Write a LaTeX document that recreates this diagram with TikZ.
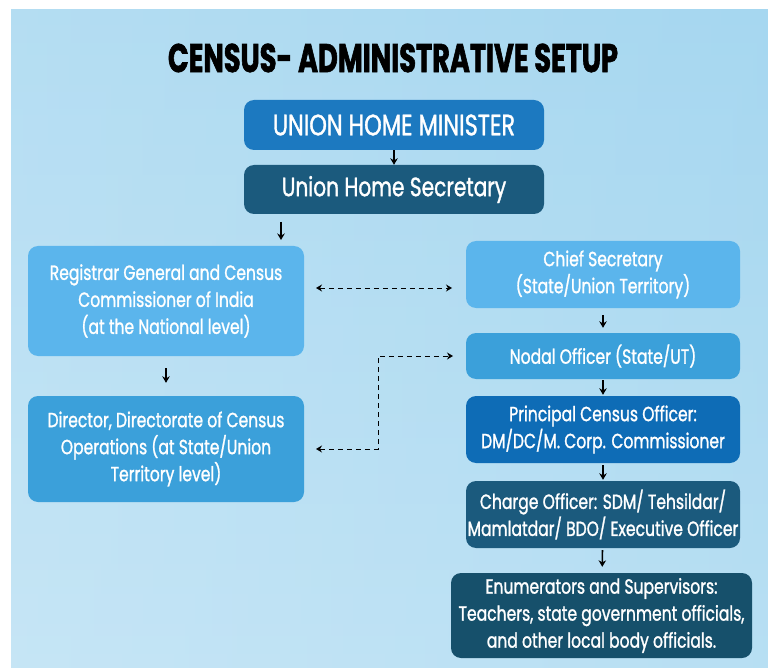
\documentclass[tikz,border=0pt]{standalone}
\usepackage{fontspec}
\setmainfont{Poppins}[FakeStretch=0.76, FakeBold=1.2]
\newfontfamily\titlefont{Poppins}[FakeStretch=0.68, FakeBold=1.5]
\usetikzlibrary{arrows.meta}
\definecolor{bgtop}{HTML}{A6D7F0}
\definecolor{bgmid}{HTML}{EEF7FC}
\definecolor{bgbot}{HTML}{BCE1F4}
\definecolor{lblue}{HTML}{5BB5EC}
\definecolor{mblue}{HTML}{3BA0DA}
\definecolor{sblue}{HTML}{1C79C0}
\definecolor{pblue}{HTML}{0E6CB6}
\definecolor{dteal}{HTML}{1B5A7D}
\definecolor{eteal}{HTML}{16506B}
\tikzset{
  box/.style={rounded corners=10pt, inner sep=0pt, text=white, align=center,
    font=\fontsize{20.5}{27}\selectfont},
  arr/.style={line width=1.6pt, -{Stealth[length=6.5pt,width=7.5pt]}},
  darr/.style={line width=0.9pt, dash pattern=on 5pt off 4pt,
    {Stealth[length=6pt,width=7pt]}-{Stealth[length=6pt,width=7pt]}},
}
\begin{document}
\begin{tikzpicture}[x=1pt,y=-1pt]
\useasboundingbox (0,0) rectangle (768,668);
\shade[top color=bgtop, middle color=bgmid, bottom color=bgbot] (11,10) rectangle (768,668);
\shade[left color=bgmid, right color=bgtop, opacity=0.2] (11,10) rectangle (768,668);
\node (title) at (393,58) {\titlefont\bfseries\fontsize{40}{44}\selectfont CENSUS- ADMINISTRATIVE SETUP};
\node[box, fill=sblue, minimum width=300pt, minimum height=50pt, font=\fontsize{29.5}{32}\selectfont] (uhm) at (394,125) {UNION HOME MINISTER};
\node[box, fill=dteal, minimum width=300pt, minimum height=49pt, font=\fontsize{26.5}{30}\selectfont] (uhs) at (394,189.5) {Union Home Secretary};
\node[box, fill=lblue, minimum width=276pt, minimum height=110pt] (reg) at (166,301) {Registrar General and Census\\Commissioner of India\\(at the National level)};
\node[box, fill=mblue, minimum width=276pt, minimum height=106pt] (dir) at (166,449) {Director, Directorate of Census\\Operations (at State/Union\\Territory level)};
\node[box, fill=lblue, minimum width=274pt, minimum height=67pt] (chief) at (603,274.5) {Chief Secretary\\(State/Union Territory)};
\node[box, fill=mblue, minimum width=274pt, minimum height=46pt] (nodal) at (603,356) {Nodal Officer (State/UT)};
\node[box, fill=pblue, minimum width=274pt, minimum height=67pt] (pco) at (603,429.5) {Principal Census Officer:\\DM/DC/M. Corp. Commissioner};
\node[box, fill=dteal, minimum width=274pt, minimum height=67pt] (cho) at (603,514.5) {Charge Officer: SDM/ Tehsildar/\\Mamlatdar/ BDO/ Executive Officer};
\node[box, fill=eteal, minimum width=301pt, minimum height=85pt] (enum) at (601.5,615.5) {Enumerators and Supervisors:\\Teachers, state government officials,\\and other local body officials.};
% solid arrows
\draw[arr] (uhm) -- (uhs);
\coordinate (u1) at (281,222);
\coordinate (u2) at (281,240);
\draw[arr] (u1) -- (u2);
\draw[arr, shorten <=12pt, shorten >=13pt] (reg) -- (dir);
\draw[arr, shorten <=7pt, shorten >=5pt] (chief) -- (nodal);
\draw[arr, shorten <=1pt, shorten >=1pt] (nodal) -- (pco);
\draw[arr, shorten <=2pt, shorten >=1pt] (pco) -- (cho);
\draw[arr, shorten <=2pt, shorten >=6pt] (cho) -- (enum);
% dashed links
\coordinate (d1) at (316,288);
\coordinate (d2) at (452,288);
\draw[darr] (d1) -- (d2);
\coordinate (d3) at (316,449);
\coordinate (d4) at (378,356);
\coordinate (d5) at (453,356);
\draw[darr] (d3) -| (d4) -- (d5);
\end{tikzpicture}
\end{document}
